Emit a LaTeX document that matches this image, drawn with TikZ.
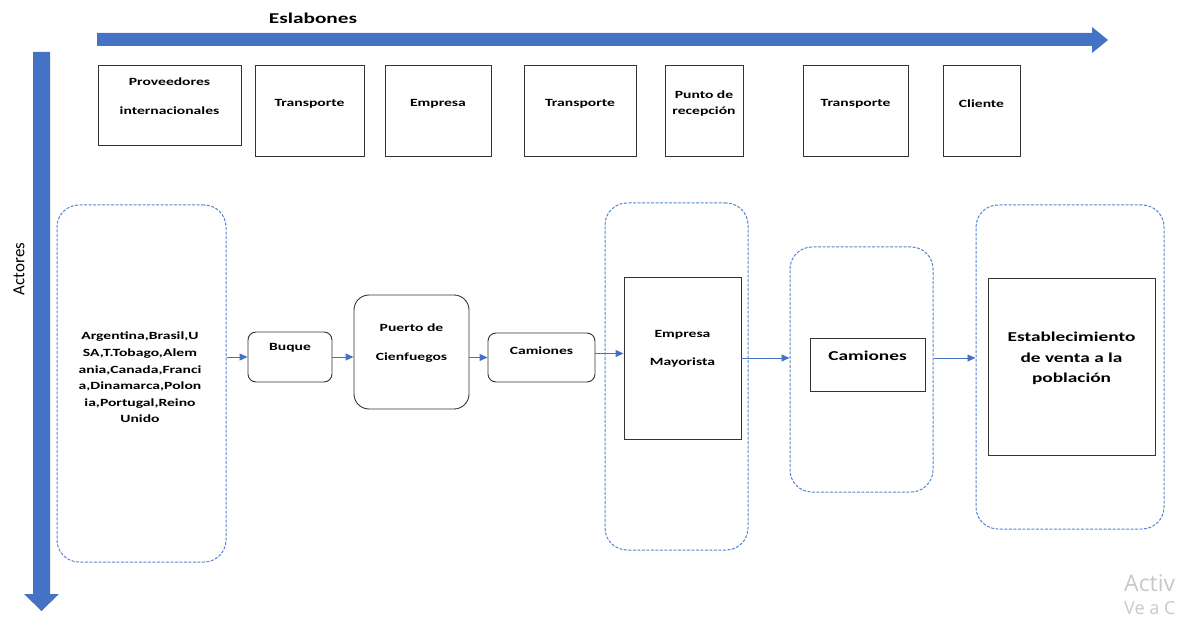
\documentclass[tikz,border=0pt]{standalone}
\usepackage{fontspec}
\setmainfont{Carlito}[FakeStretch=1.42]
\newfontfamily\axisfont{Carlito}
\newfontfamily\wmfont{Open Sans}
\usetikzlibrary{arrows.meta}
\definecolor{axisblue}{RGB}{68,114,196}
\definecolor{dashblue}{RGB}{84,133,210}
\definecolor{wmgray}{RGB}{200,200,200}
\tikzset{
  stage/.style={draw=black!80, line width=0.9pt, inner sep=0pt},
  actor/.style={draw=black!80, line width=0.9pt, rounded corners=8pt, inner sep=0pt},
  group/.style={draw=dashblue, line width=1pt, dash pattern=on 3pt off 1.5pt,
                rounded corners=22pt, inner sep=0pt},
  lbl/.style={font=\fontsize{11}{16.6}\selectfont\bfseries, align=center, inner sep=0pt},
  biglbl/.style={font=\fontsize{13.6}{20.5}\selectfont\bfseries, align=center, inner sep=0pt},
  flow/.style={draw=axisblue, line width=0.9pt, -{Triangle[length=8pt,width=7pt]}},
  wm/.style={anchor=west, text=wmgray, inner sep=0pt},
}
\begin{document}
\begin{tikzpicture}[x=1pt,y=-1pt]
\useasboundingbox (0,0) rectangle (1186,620);

% axes
\fill[axisblue] (97,33) -- (1092,33) -- (1092,27) -- (1108,40) -- (1092,53)
  -- (1092,46) -- (97,46) -- cycle;
\fill[axisblue] (33,52) -- (50,52) -- (50,594) -- (59,594) -- (41.5,611)
  -- (24,594) -- (33,594) -- cycle;
\node[font=\fontsize{15}{15}\selectfont\bfseries] (eslabones) at (313,18) {Eslabones};
\node[rotate=90, font=\axisfont\fontsize{17}{17}\selectfont] (actores) at (19,269) {Actores};

% chain links
\node[stage, minimum width=143pt, minimum height=80pt] (prov) at (169.5,105) {};
\node[lbl] (provA) at (169.5,82) {Proveedores};
\node[lbl] (provB) at (169.5,111) {internacionales};
\node[stage, minimum width=109pt, minimum height=91pt] (tr1) at (309.5,110.5) {};
\node[lbl] (tr1t) at (309.5,104) {Transporte};
\node[stage, minimum width=106pt, minimum height=91pt] (emp0) at (438,110.5) {};
\node[lbl] (emp0t) at (438,104) {Empresa};
\node[stage, minimum width=112pt, minimum height=91pt] (tr2) at (580,110.5) {};
\node[lbl] (tr2t) at (580,104) {Transporte};
\node[stage, minimum width=78pt, minimum height=91pt] (punto) at (704,110.5) {};
\node[lbl, font=\fontsize{11}{16}\selectfont\bfseries] (puntot) at (704,104) {Punto de\\recepción};
\node[stage, minimum width=105pt, minimum height=91pt] (tr3) at (855.5,110.5) {};
\node[lbl] (tr3t) at (855.5,104) {Transporte};
\node[stage, minimum width=77pt, minimum height=91pt] (cli) at (981.5,110.5) {};
\node[lbl] (clit) at (981.5,104) {Cliente};

% actors
\node[group, minimum width=169pt, minimum height=357pt] (gA) at (141.5,383.5) {};
\node[lbl] (paises) at (140,377.5) {Argentina,Brasil,U\\SA,T.Tobago,Alem\\ania,Canada,Franci\\a,Dinamarca,Polon\\ia,Portugal,Reino\\Unido};

\node[actor, minimum width=84pt, minimum height=50pt] (buque) at (290,357) {};
\node[lbl] (buquet) at (290,348) {Buque};

\node[actor, rounded corners=15pt, minimum width=115pt, minimum height=114pt] (puerto) at (411.5,352) {};
\node[lbl] (puertoA) at (411.5,328) {Puerto de};
\node[lbl] (puertoB) at (411.5,358) {Cienfuegos};

\node[actor, minimum width=107pt, minimum height=49pt] (cam1) at (541.5,357.5) {};
\node[lbl] (cam1t) at (541.5,351) {Camiones};

\node[group, minimum width=143pt, minimum height=347pt] (gB) at (676.5,376.5) {};
\node[stage, minimum width=117pt, minimum height=162pt] (may) at (682.5,358) {};
\node[lbl] (mayA) at (682.5,335) {Empresa};
\node[lbl] (mayB) at (682.5,363) {Mayorista};

\node[group, minimum width=143pt, minimum height=245pt] (gC) at (861.5,369.5) {};
\node[stage, minimum width=115pt, minimum height=53pt] (cam2) at (867.5,364.5) {};
\node[biglbl] (cam2t) at (867.5,356) {Camiones};

\node[group, minimum width=188pt, minimum height=324pt] (gD) at (1070,367) {};
\node[stage, minimum width=167pt, minimum height=177pt] (est) at (1071.5,366.5) {};
\node[biglbl] (estt) at (1071.5,358.5) {Establecimiento\\de venta a la\\población};

% flows
\draw[flow] (gA.east |- buque.west) -- (buque.west);
\draw[flow] (buque.east) -- (buque.east -| puerto.west);
\draw[flow] (puerto.east |- cam1.west) -- (cam1.west);
\draw[flow] ([yshift=4pt]cam1.east) -- ([yshift=4pt]cam1.east -| may.west);
\draw[flow] (may.east) -- (may.east -| gC.west);
\draw[flow] (gC.east |- may.east) -- (gD.west |- may.east);

% system watermark in the corner
\node[wm, font=\wmfont\fontsize{23}{23}\selectfont] (wm1) at (1124,583) {Activ};
\node[wm, font=\wmfont\fontsize{18}{18}\selectfont] (wm2) at (1124,608) {Ve a C};
\end{tikzpicture}
\end{document}
